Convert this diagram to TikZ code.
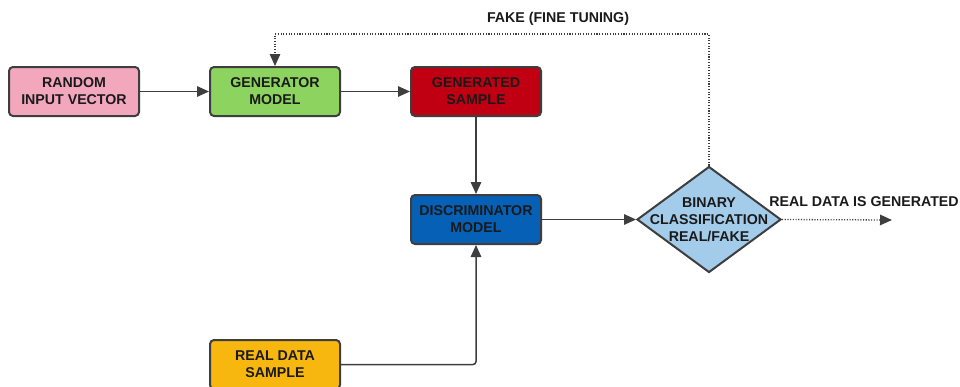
\documentclass[tikz,border=0pt]{standalone}
\usepackage{fontspec}
\setmainfont{Liberation Sans}
\usepackage{xcolor}
\usetikzlibrary{positioning,shapes.geometric,arrows.meta}

\definecolor{inputpink}{HTML}{F2A7BD}
\definecolor{gengreen}{HTML}{8DD35F}
\definecolor{samplered}{HTML}{C00012}
\definecolor{discblue}{HTML}{0560B6}
\definecolor{decblue}{HTML}{A3CBEA}
\definecolor{realyellow}{HTML}{F7B70F}
\definecolor{edgegray}{HTML}{3E3E3E}
\definecolor{textblack}{HTML}{1A1A1A}

\begin{document}
\begin{tikzpicture}[x=1pt, y=-1pt, node distance=77pt and 69pt,
        font=\fontsize{14.2}{17}\selectfont\bfseries, text=textblack,
        box/.style={draw=edgegray, line width=2pt, rounded corners=4pt,
            minimum width=130pt, minimum height=49pt, align=center, inner sep=2pt},
        decision/.style={draw=edgegray, line width=2pt, diamond, fill=decblue,
            minimum width=144pt, minimum height=106pt, inner sep=0pt},
        flow/.style={draw=edgegray, line width=1.5pt, -{Triangle[length=12pt,width=10.5pt]}},
        hint/.style={flow, line width=1.3pt, dash pattern=on 1.1pt off 1.6pt}]
    \useasboundingbox (0,0) rectangle (960,386);
        % Generator side
        \node[box, fill=inputpink] (random) at (74,91.5) {RANDOM\\INPUT VECTOR};
        \node[box, fill=gengreen, right=of random] (generator) {GENERATOR\\MODEL};
        \node[box, fill=samplered, right=of generator] (generated) {GENERATED\\SAMPLE};
        % Discriminator side
        \node[box, fill=discblue, below=of generated] (discriminator) {DISCRIMINATOR\\MODEL};
        \node[box, fill=realyellow] (realdata) at (275,364.5) {REAL DATA\\SAMPLE};
        \node[decision, right=94pt of discriminator,
            label={[align=center]center:BINARY\\CLASSIFICATION\\REAL/FAKE}] (binary) {};
        % Connectors
        \draw[flow] (random) -- (generator);
        \draw[flow] (generator) -- (generated);
        \draw[flow] (generated) -- (discriminator);
        \draw[flow] (discriminator) -- (binary);
        \draw[flow, rounded corners=3pt] (realdata.east) -| (discriminator.south);
        % Feedback and result
        \coordinate (turn) at (0,34);
        \draw[hint] (binary.north) -- (binary.north |- turn) -| (generator.north);
        \node (fake) at (558,19) {FAKE (FINE TUNING)};
        \coordinate (result) at (892,220);
        \draw[hint] (binary.east) -- (result);
        \node (outcome) at (864,202) {REAL DATA IS GENERATED};
    \end{tikzpicture}
\end{document}
